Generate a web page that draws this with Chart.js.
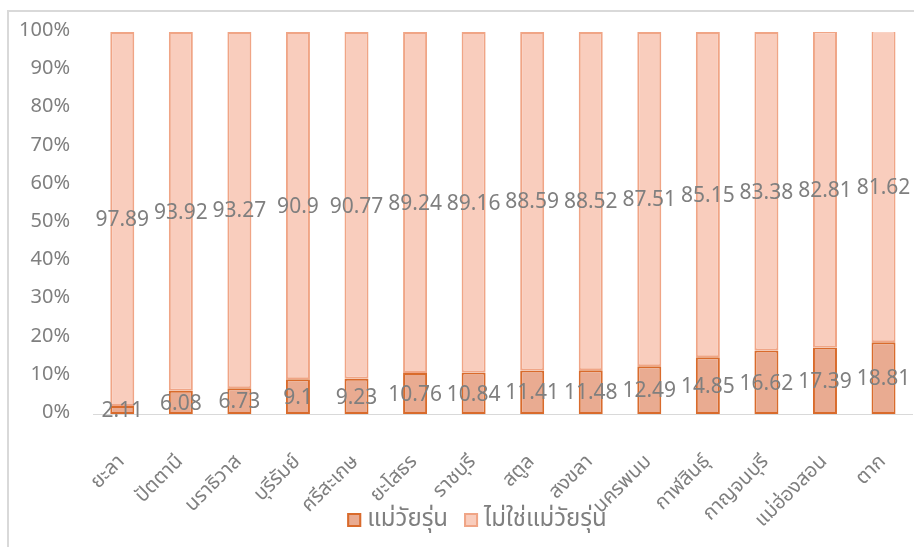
<!DOCTYPE html>
<html lang="th">
<head>
  <meta charset="UTF-8">
  <title>แม่วัยรุ่น</title>
  <script src="https://cdn.jsdelivr.net/npm/chart.js"></script>
  <style>
    html, body { margin: 0; padding: 0; background: #fff; overflow: hidden; }
    #wrap { position: relative; width: 914px; height: 547px; overflow: hidden; }
    canvas { position: absolute; left: 0; top: 0; }
  </style>
</head>
<body>
  <div id="wrap">
    <canvas id="teenChart" width="930" height="547"></canvas>
  </div>

  <script>
    const provinces = ['ยะลา', 'ปัตตานี', 'นราธิวาส', 'บุรีรัมย์', 'ศรีสะเกษ', 'ยะโสธร', 'ราชบุรี',
      'สตูล', 'สงขลา', 'นครพนม', 'กาฬสินธุ์', 'กาญจนบุรี', 'แม่ฮ่องสอน', 'ตาก'];
    const teenMothers = [2.11, 6.08, 6.73, 9.1, 9.23, 10.76, 10.84, 11.41, 11.48, 12.49, 14.85, 16.62, 17.39, 18.81];
    const otherMothers = [97.89, 93.92, 93.27, 90.9, 90.77, 89.24, 89.16, 88.59, 88.52, 87.51, 85.15, 83.38, 82.81, 81.62];
    const seriesNames = ['แม่วัยรุ่น', 'ไม่ใช่แม่วัยรุ่น'];

    const fontFamily = '"Noto Sans Thai", "Noto Sans", "Liberation Sans", sans-serif';
    const grey = '#7f7f7f';

    // value labels in the middle of each segment
    const segmentLabels = {
      id: 'segmentLabels',
      afterDatasetsDraw(chart) {
        const ctx = chart.ctx;
        ctx.save();
        ctx.font = '21px ' + fontFamily;
        ctx.fillStyle = grey;
        ctx.textAlign = 'center';
        ctx.textBaseline = 'middle';
        chart.data.datasets.forEach((ds, i) => {
          chart.getDatasetMeta(i).data.forEach((bar, j) => {
            ctx.fillText(String(ds.data[j]), bar.x, (bar.y + bar.base) / 2 + 3);
          });
        });
        ctx.restore();
      }
    };

    // legend drawn by hand so the rotated axis labels can run down beside it
    const bottomLegend = {
      id: 'bottomLegend',
      afterDraw(chart) {
        const ctx = chart.ctx;
        const box = 14, gap = 6, spacing = 16, centerX = 477, y = 520;
        ctx.save();
        ctx.font = '24px ' + fontFamily;
        ctx.textBaseline = 'middle';
        const items = chart.data.datasets.map(ds => ({ ds, w: ctx.measureText(ds.label).width }));
        const total = items.reduce((s, it) => s + box + gap + it.w, 0) + spacing * (items.length - 1);
        let x = centerX - total / 2;
        items.forEach(it => {
          ctx.fillStyle = it.ds.backgroundColor;
          ctx.strokeStyle = it.ds.borderColor;
          ctx.lineWidth = 2;
          ctx.fillRect(x, y - box / 2, box, box);
          ctx.strokeRect(x + 1, y - box / 2 + 1, box - 2, box - 2);
          ctx.fillStyle = grey;
          ctx.fillText(it.ds.label, x + box + gap, y + 1);
          x += box + gap + it.w + spacing;
        });
        ctx.restore();
      }
    };

    // frame that Excel draws round the chart (cropped on the right and bottom)
    const frame = {
      id: 'frame',
      beforeDraw(chart) {
        const ctx = chart.ctx;
        ctx.save();
        ctx.strokeStyle = '#d9d9d9';
        ctx.lineWidth = 2;
        ctx.beginPath();
        ctx.moveTo(8, chart.height);
        ctx.lineTo(8, 11);
        ctx.lineTo(chart.width, 11);
        ctx.stroke();
        ctx.restore();
      }
    };

    new Chart(document.getElementById('teenChart'), {
      type: 'bar',
      data: {
        labels: provinces,
        datasets: [
          {
            label: seriesNames[0],
            data: teenMothers,
            backgroundColor: '#e9ab91',
            borderColor: '#d96b2c',
            borderWidth: 2,
            borderSkipped: false
          },
          {
            label: seriesNames[1],
            data: otherMothers,
            backgroundColor: '#f9cdbd',
            borderColor: '#f0a586',
            borderWidth: 2,
            borderSkipped: false
          }
        ]
      },
      options: {
        responsive: false,
        animation: false,
        categoryPercentage: 1,
        barPercentage: 0.41,
        layout: { padding: { top: 32, left: 0, right: 14, bottom: 0 } },
        plugins: {
          legend: { display: false },
          tooltip: { enabled: false }
        },
        scales: {
          x: {
            stacked: true,
            grid: { display: false },
            border: { display: true, color: '#d9d9d9', width: 1 },
            ticks: {
              color: grey,
              font: { family: fontFamily, size: 20 },
              minRotation: 45,
              maxRotation: 45,
              padding: 29
            },
            afterFit(scale) { scale.height = 133; }
          },
          y: {
            stacked: true,
            min: 0,
            max: 100,
            grid: { display: false },
            border: { display: false },
            ticks: {
              stepSize: 10,
              color: grey,
              font: { family: fontFamily, size: 20 },
              padding: 15,
              callback: v => v + '%'
            },
            afterFit(scale) { scale.width = 93; }
          }
        }
      },
      plugins: [segmentLabels, bottomLegend, frame]
    });
  </script>
</body>
</html>
